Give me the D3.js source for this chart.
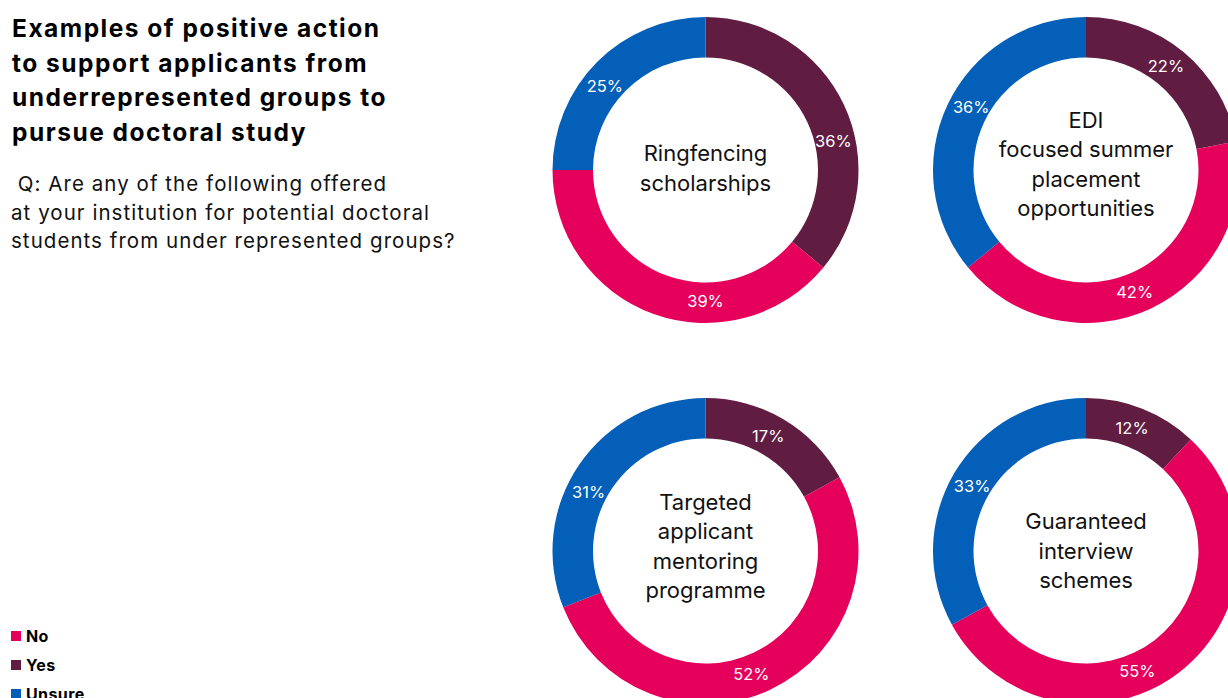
<!DOCTYPE html>
<html>
<head>
<meta charset="utf-8">
<script src="https://cdn.jsdelivr.net/npm/d3@7"></script>
<style>
  html, body { margin: 0; padding: 0; background: #fff; overflow: hidden; }
  svg { display: block; font-family: Inter, "Noto Sans", sans-serif; }
</style>
</head>
<body>
<svg id="chart" width="1228" height="698"></svg>
<script>
// Answer categories, in the order they run clockwise from 12 o'clock
const answers = ["Yes", "No", "Unsure"];
const legendOrder = ["No", "Yes", "Unsure"];

// Offered schemes (ring titles, one line per entry)
const schemes = [
  ["Ringfencing", "scholarships"],
  ["EDI", "focused summer", "placement", "opportunities"],
  ["Targeted", "applicant", "mentoring", "programme"],
  ["Guaranteed", "interview", "schemes"]
];

// Share of institutions (%) per scheme: Yes, No, Unsure
const yesValues    = [36, 22, 17, 12];
const noValues     = [39, 42, 52, 55];
const unsureValues = [25, 36, 31, 33];

const titleLines = [
  "Examples of positive action",
  "to support applicants from",
  "underrepresented groups to",
  "pursue doctoral study"
];
const subtitleLines = [
  " Q: Are any of the following offered",
  "at your institution for potential doctoral",
  "students from under represented groups?"
];

// Small nudges (degrees) that move some value labels away from the arc midpoint
const labelNudge = [
  [12.6, -19.8, -5.2],
  [-2, 3.4, 3.6],
  [-2, 4.7, -7.4],
  [-1, 14.7, -1]
];

const colour = d3.scaleOrdinal()
  .domain(answers)
  .range(["#611c41", "#e4005b", "#035fb8"]);

const svg = d3.select("#chart");

// Heading
svg.append("g").selectAll("text")
  .data(titleLines).join("text")
  .attr("x", 12)
  .attr("y", (d, i) => 37 + i * 34.6)
  .attr("font-size", 24.5)
  .attr("font-weight", 700)
  .attr("letter-spacing", 1.5)
  .attr("fill", "#000")
  .text(d => d);

svg.append("g").selectAll("text")
  .data(subtitleLines).join("text")
  .attr("x", 11)
  .attr("y", (d, i) => 191 + i * 28.5)
  .attr("font-size", 20.5)
  .attr("letter-spacing", 1.05)
  .attr("fill", "#111")
  .attr("xml:space", "preserve")
  .style("white-space", "pre")
  .text(d => d);

// Legend
const legend = svg.append("g").selectAll("g")
  .data(legendOrder).join("g")
  .attr("transform", (d, i) => `translate(11, ${631 + i * 29})`);
legend.append("rect")
  .attr("width", 10).attr("height", 10)
  .attr("fill", d => colour(d));
legend.append("text")
  .attr("x", 15).attr("y", 10.5)
  .attr("font-size", 16).attr("font-weight", 700)
  .attr("letter-spacing", 0.4)
  .attr("fill", "#000")
  .text(d => d);

// Donut rings in a 2x2 grid
const col = d3.scalePoint().domain([0, 1]).range([705.5, 1086]);
const row = d3.scalePoint().domain([0, 1]).range([170, 551]);
const outerR = 153, innerR = 112.5, labelR = 131;

const pie = d3.pie().sort(null).value(d => d.value);
const arc = d3.arc().innerRadius(innerR).outerRadius(outerR);

schemes.forEach((lines, k) => {
  const data = [
    { key: "Yes", value: yesValues[k] },
    { key: "No", value: noValues[k] },
    { key: "Unsure", value: unsureValues[k] }
  ];
  const g = svg.append("g")
    .attr("transform", `translate(${col(k % 2)}, ${row(Math.floor(k / 2))})`);

  const arcs = pie(data);
  g.selectAll("path").data(arcs).join("path")
    .attr("d", arc)
    .attr("fill", d => colour(d.data.key));

  g.selectAll("text.val").data(arcs).join("text")
    .attr("class", "val")
    .attr("transform", (d, i) => {
      const a = (d.startAngle + d.endAngle) / 2 + labelNudge[k][i] * Math.PI / 180;
      return `translate(${labelR * Math.sin(a)}, ${-labelR * Math.cos(a)})`;
    })
    .attr("text-anchor", "middle")
    .attr("dy", "0.36em")
    .attr("font-size", 16.5)
    .attr("fill", "#fff")
    .text(d => d.data.value + "%");

  const lh = 29.5;
  const shift = [-2, -6, -5, 0][k];
  g.selectAll("text.name").data(lines).join("text")
    .attr("class", "name")
    .attr("text-anchor", "middle")
    .attr("y", (d, i) => (i - (lines.length - 1) / 2) * lh + shift)
    .attr("dy", "0.36em")
    .attr("font-size", 22)
    .attr("fill", "#111")
    .text(d => d);
});
</script>
</body>
</html>
